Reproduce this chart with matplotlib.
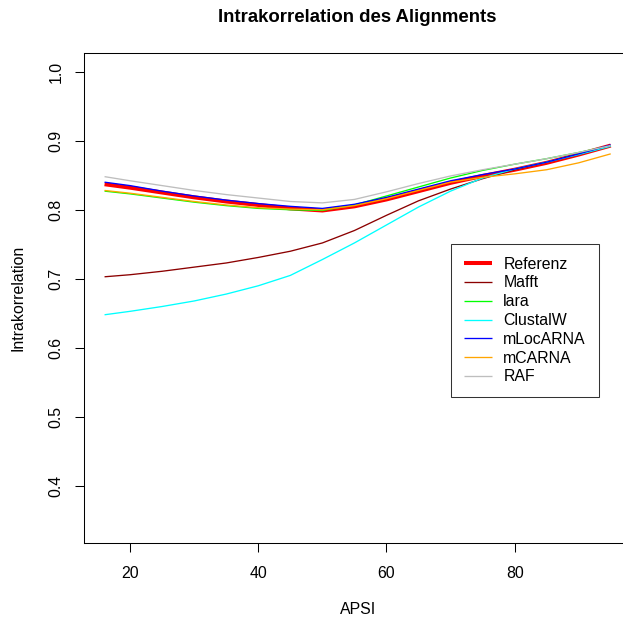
import matplotlib
matplotlib.use("Agg")
import matplotlib.pyplot as plt

plt.rcParams["font.family"] = ["Liberation Sans", "DejaVu Sans"]

# APSI values on the x axis
apsi = [16, 20, 25, 30, 35, 40, 45, 50, 55, 60, 65, 70, 75, 80, 85, 90, 95]

# smoothed intracorrelation per aligner
referenz  = [0.837, 0.832, 0.825, 0.818, 0.812, 0.807, 0.802, 0.799, 0.805, 0.815, 0.827, 0.839, 0.849, 0.858, 0.868, 0.880, 0.893]
mafft     = [0.703, 0.706, 0.711, 0.717, 0.723, 0.731, 0.740, 0.752, 0.770, 0.792, 0.813, 0.830, 0.845, 0.858, 0.869, 0.880, 0.892]
lara      = [0.827, 0.823, 0.817, 0.811, 0.806, 0.802, 0.800, 0.799, 0.807, 0.820, 0.833, 0.846, 0.857, 0.866, 0.874, 0.883, 0.893]
clustalw  = [0.648, 0.653, 0.660, 0.668, 0.678, 0.690, 0.705, 0.728, 0.752, 0.778, 0.804, 0.827, 0.846, 0.859, 0.869, 0.880, 0.892]
mlocarna  = [0.840, 0.835, 0.827, 0.820, 0.814, 0.809, 0.805, 0.802, 0.808, 0.818, 0.830, 0.842, 0.851, 0.859, 0.869, 0.881, 0.894]
mcarna    = [0.828, 0.824, 0.818, 0.812, 0.807, 0.803, 0.801, 0.800, 0.806, 0.816, 0.828, 0.840, 0.847, 0.852, 0.858, 0.868, 0.881]
raf       = [0.848, 0.842, 0.835, 0.828, 0.822, 0.817, 0.812, 0.810, 0.815, 0.826, 0.838, 0.849, 0.858, 0.866, 0.874, 0.883, 0.893]

names  = ["Referenz", "Mafft", "lara", "ClustalW", "mLocARNA", "mCARNA", "RAF"]
series = [referenz, mafft, lara, clustalw, mlocarna, mcarna, raf]
colors = ["#FF0000", "#8B0000", "#00FF00", "#00FFFF", "#0000FF", "#FFA500", "#BEBEBE"]
widths = [2.9, 0.95, 0.95, 0.95, 0.95, 0.95, 0.95]

W, H = 623, 619
fs = 11.4
fig = plt.figure(figsize=(W / 100, H / 100), dpi=100)
# plot box runs past the right edge of the picture (cropped R output)
left, right, top, bottom = 84.3, 631.0, 53.0, 542.7
ax = fig.add_axes([left / W, 1 - bottom / H, (right - left) / W, (bottom - top) / H])

for name, ys, c, lw in zip(names, series, colors, widths):
    ax.plot(apsi, ys, color=c, lw=lw, label=name, solid_capstyle="butt")

ax.set_xlim(12.84, 98.16)
ax.set_ylim(0.318, 1.027)
ax.set_xticks([20, 40, 60, 80])
ax.set_yticks([0.4, 0.5, 0.6, 0.7, 0.8, 0.9, 1.0])
ax.set_yticklabels(["0.4", "0.5", "0.6", "0.7", "0.8", "0.9", "1.0"], rotation=90, va="center")
ax.tick_params(axis="both", direction="out", length=6.8, width=0.75, labelsize=fs)
ax.tick_params(axis="x", pad=10)
ax.tick_params(axis="y", pad=8)
for s in ax.spines.values():
    s.set_linewidth(0.75)
ax.spines["right"].set_visible(False)

ax.set_xlabel("APSI", fontsize=fs, labelpad=15)
ax.set_ylabel("Intrakorrelation", fontsize=fs, labelpad=17)
fig.text((left + right) / 2 / W, 1 - 18 / H, "Intrakorrelation des Alignments",
         ha="center", va="center", fontsize=13.4, fontweight="bold")

leg = ax.legend(loc="upper left", bbox_to_anchor=(451 / W, 1 - 244 / H),
                bbox_transform=fig.transFigure, borderaxespad=0, fontsize=fs,
                frameon=True, fancybox=False, handlelength=1.8, handletextpad=0.7,
                labelspacing=0.24, borderpad=0.8)
leg.get_frame().set_edgecolor("black")
leg.get_frame().set_linewidth(0.75)

fig.savefig("out.png", dpi=100)
